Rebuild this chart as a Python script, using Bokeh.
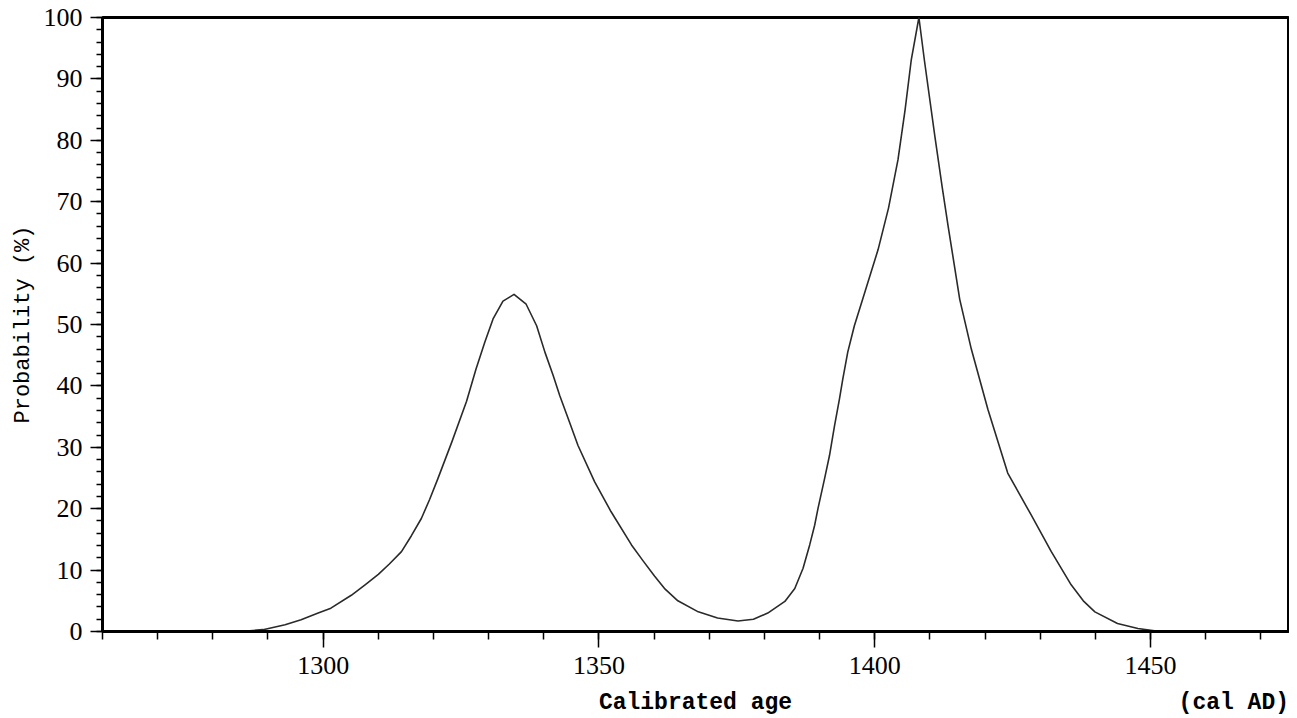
from bokeh.plotting import figure
from bokeh.models import FixedTicker, Range1d
from bokeh.embed import file_html
from bokeh.resources import INLINE

# Calibrated age (cal AD) and probability (%)
years = [1285.0, 1289.1, 1293.1, 1296.0, 1299.1, 1301.4, 1305.1, 1307.6, 1310.0, 1312.0,
         1314.2, 1316.0, 1317.8, 1319.3, 1320.8, 1323.3, 1326.0, 1327.7, 1329.3, 1330.8,
         1332.6, 1334.6, 1336.8, 1338.7, 1340.2, 1341.7, 1342.9, 1344.5, 1346.2, 1349.2,
         1352.2, 1355.9, 1358.0, 1360.1, 1362.0, 1364.3, 1368.0, 1371.5, 1375.2, 1378.0,
         1380.6, 1383.7, 1385.5, 1387.0, 1388.2, 1389.1, 1389.7, 1390.9, 1391.8, 1392.7,
         1393.6, 1394.2, 1395.1, 1396.3, 1397.8, 1400.6, 1402.5, 1404.2, 1405.5, 1406.6,
         1408.0, 1409.0, 1410.9, 1412.2, 1413.3, 1415.4, 1417.5, 1420.5, 1424.1,
         1428.4, 1432.0, 1435.6, 1437.8, 1439.9, 1444.0, 1447.7, 1450.7]
prob = [0.0, 0.3, 1.1, 1.9, 3.0, 3.8, 5.9, 7.6, 9.3, 11.0,
        13.0, 15.6, 18.4, 21.5, 24.9, 30.8, 37.5, 42.7, 47.1, 50.9,
        53.8, 54.9, 53.3, 49.8, 45.5, 41.7, 38.4, 34.5, 30.3, 24.4,
        19.5, 14.1, 11.5, 9.0, 6.9, 5.0, 3.2, 2.2, 1.7, 2.0,
        3.0, 4.9, 7.0, 10.3, 14.1, 17.3, 20.0, 24.9, 28.7, 33.5,
        37.9, 41.1, 45.5, 49.8, 54.1, 62.2, 69.0, 76.8, 85.0, 93.0,
        100.0, 93.0, 80.6, 72.5, 66.0, 54.1, 46.0, 36.2, 25.8,
        18.9, 13.0, 7.6, 5.0, 3.2, 1.3, 0.5, 0.1]

x_major = [1300, 1350, 1400, 1450]
x_minor = list(range(1260, 1480, 10))
y_major = list(range(0, 101, 10))
y_minor = list(range(0, 101, 2))

x_title = "Calibrated age"
x_unit = "(cal AD)"
y_title = "Probability (%)"

p = figure(width=1289, height=718, output_backend="svg", toolbar_location=None,
           x_range=Range1d(1260, 1475), y_range=Range1d(0, 100),
           min_border_left=102, min_border_top=17, min_border_right=1, min_border_bottom=84)

p.line(years, prob, line_color="#2a2a2a", line_width=1.6, line_join="round")

p.grid.visible = False
p.outline_line_color = "black"
p.outline_line_width = 3
p.background_fill_color = "white"
p.border_fill_color = "white"

serif = "Liberation Serif"
mono = "Liberation Mono"

# axis title centred under the frame, unit flush with the frame's right edge
nb = "\u00a0"
x_label_text = nb * 36 + x_title + nb * 28 + x_unit

xa = p.xaxis[0]
xa.ticker = FixedTicker(ticks=x_major, minor_ticks=x_minor)
xa.axis_line_width = 3
xa.major_tick_out = 16
xa.major_tick_in = 0
xa.minor_tick_out = 8
xa.minor_tick_in = 0
xa.major_tick_line_width = 1.5
xa.minor_tick_line_width = 1.5
xa.major_label_text_font = serif
xa.major_label_text_font_size = "26px"
xa.major_label_text_color = "black"
xa.major_label_standoff = 9
xa.axis_label = x_label_text
xa.axis_label_text_font = mono
xa.axis_label_text_font_style = "bold"
xa.axis_label_text_font_size = "23px"
xa.axis_label_text_color = "black"
xa.axis_label_standoff = 13

ya = p.yaxis[0]
ya.ticker = FixedTicker(ticks=y_major, minor_ticks=y_minor)
ya.axis_line_width = 3
ya.major_tick_out = 12
ya.major_tick_in = 0
ya.minor_tick_out = 6
ya.minor_tick_in = 0
ya.major_tick_line_width = 1.5
ya.minor_tick_line_width = 1.5
ya.major_label_text_font = serif
ya.major_label_text_font_size = "26px"
ya.major_label_text_color = "black"
ya.major_label_standoff = 8
ya.axis_label = y_title
ya.axis_label_text_font = mono
ya.axis_label_text_font_style = "normal"
ya.axis_label_text_font_size = "22px"
ya.axis_label_text_color = "black"
ya.axis_label_standoff = 5

open("out.html", "w").write(file_html(p, INLINE))
